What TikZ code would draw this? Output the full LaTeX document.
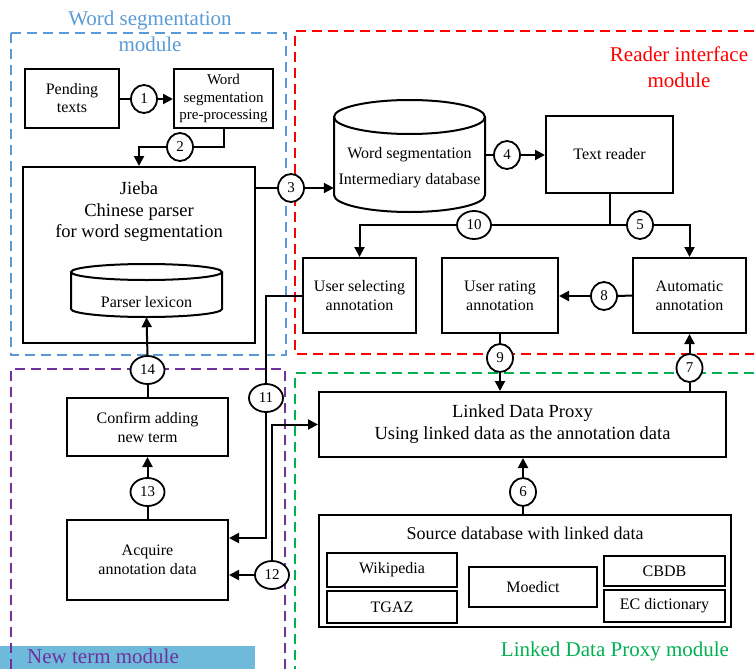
\documentclass[tikz,border=0pt]{standalone}
\usepackage{fontspec}
\setmainfont{Liberation Serif}
\usetikzlibrary{shapes.geometric,arrows.meta}
\definecolor{wsblue}{HTML}{5B9BD5}
\definecolor{rired}{HTML}{FF0000}
\definecolor{ntpurple}{HTML}{7030A0}
\definecolor{ldgreen}{HTML}{00B050}
\definecolor{bandblue}{HTML}{6FB9DA}
\newcommand\fsz[2]{\fontsize{#1}{#2}\selectfont}
\begin{document}
\begin{tikzpicture}[x=1pt,y=-1pt,
  box/.style={draw, line width=2pt, inner sep=1pt, align=center, font=\fsz{16}{19}},
  num/.style={draw, ellipse, line width=1.8pt, fill=white, inner sep=0pt, minimum width=26pt, minimum height=28pt, font=\fsz{15}{17}},
  numw/.style={num, minimum width=34pt},
  conn/.style={line width=2pt},
  arr/.style={line width=2pt, -{Triangle[length=10pt,width=10pt]}},
  modline/.style={line width=2.8pt, dash pattern=on 10pt off 6pt},
  modtitle/.style={align=center, font=\fsz{21}{26}, inner sep=0pt},
  txt/.style={align=center, inner sep=0pt}]
\useasboundingbox (0,0) rectangle (754,669);

% module frames and titles
\fill[bandblue] (0,646) rectangle (255,669);
\draw[modline, wsblue] (11,33) rectangle (286,355);
\draw[modline, rired] (754,31) -- (295,31) -- (295,354) -- (754,354);
\draw[modline, ntpurple] (11,669) -- (11,369) -- (285,369) -- (285,669);
\draw[modline, ldgreen] (754,373) -- (295,373) -- (295,669);
\node[modtitle, text=wsblue] (wstitle) at (150,31) {Word segmentation\\module};
\node[modtitle, text=rired] (rititle) at (679,67) {Reader interface\\module};
\node[modtitle, text=ntpurple, anchor=west] (nttitle) at (27,656) {New term module};
\node[modtitle, text=ldgreen] (ldtitle) at (615,651) {Linked Data Proxy module};

% word segmentation module
\node[box, minimum width=94pt, minimum height=59pt, font=\fsz{16}{18}] (pend) at (72,98.5) {Pending\\texts};
\node[box, minimum width=99pt, minimum height=59pt, font=\fsz{15}{17.5}] (pre) at (223.5,98.5) {Word\\segmentation\\pre-processing};
\node[box, minimum width=232pt, minimum height=176pt] (jieba) at (139,255) {};
\node[txt, font=\fsz{18.5}{21.5}] (jiebatxt) at (139,212) {Jieba\\Chinese parser\\for word segmentation};
% parser lexicon cylinder
\node[inner sep=0pt, minimum width=151pt, minimum height=53pt] (lex) at (146.5,290.5) {};
\draw[line width=2pt, fill=white] (71,272) -- (71,309) arc[start angle=180, end angle=0, x radius=75.5, y radius=8] -- (222,272);
\draw[line width=2pt] (146.5,272) ellipse [x radius=75.5, y radius=8];
\node[txt, font=\fsz{16}{19}] (lextxt) at (146.5,302) {Parser lexicon};

% reader interface module
\node[inner sep=0pt, minimum width=151pt, minimum height=112pt] (wsdb) at (409.5,156) {};
\draw[line width=2pt] (334,117) -- (334,195) arc[start angle=180, end angle=0, x radius=75.5, y radius=17] -- (485,117);
\draw[line width=2pt] (409.5,117) ellipse [x radius=75.5, y radius=17];
\node[txt, font=\fsz{16}{19}] (wsdbtxt1) at (409.5,155) {Word segmentation};
\node[txt, font=\fsz{16}{19}] (wsdbtxt2) at (409.5,181) {Intermediary database};
\node[box, minimum width=127pt, minimum height=77pt] (reader) at (609.5,154.5) {Text reader};
\node[box, minimum width=113pt, minimum height=75pt] (usel) at (359.5,295.5) {User selecting\\annotation};
\node[box, minimum width=116pt, minimum height=75pt] (urate) at (500,295.5) {User rating\\annotation};
\node[box, minimum width=113pt, minimum height=75pt] (auto) at (689.5,295.5) {Automatic\\annotation};

% new term module
\node[box, minimum width=161pt, minimum height=58pt] (confirm) at (147.5,427) {Confirm adding\\new term};
\node[box, minimum width=161pt, minimum height=80pt] (acq) at (147.5,560) {Acquire\\annotation data};

% linked data proxy module
\node[box, minimum width=407pt, minimum height=65pt, font=\fsz{18.5}{22}] (ldp) at (522.5,424.5) {Linked Data Proxy\\Using linked data as the annotation data};
\node[box, minimum width=412pt, minimum height=112pt] (src) at (525,571) {};
\node[txt, font=\fsz{18}{21}] (srctxt) at (525,533) {Source database with linked data};
\node[box, minimum width=130pt, minimum height=34pt] (wiki) at (392,570) {Wikipedia};
\node[box, minimum width=130pt, minimum height=32pt] (tgaz) at (392,607) {TGAZ};
\node[box, minimum width=128pt, minimum height=40pt] (moe) at (533,587) {Moedict};
\node[box, minimum width=121pt, minimum height=30pt] (cbdb) at (664.5,571) {CBDB};
\node[box, minimum width=121pt, minimum height=32pt] (ecd) at (664.5,606) {EC dictionary};

% numbered circles
\node[num] (c1) at (144,99) {1};
\node[num] (c2) at (180,147) {2};
\node[num] (c3) at (291,188) {3};
\node[num] (c4) at (507,155) {4};
\node[num] (c5) at (640,225) {5};
\node[num] (c6) at (523,492) {6};
\node[num] (c7) at (689.5,368) {7};
\node[num] (c8) at (604,296) {8};
\node[num] (c9) at (500,358) {9};
\node[numw] (c10) at (474,225) {10};
\node[numw] (c11) at (266,398) {11};
\node[numw] (c12) at (272,575) {12};
\node[numw] (c13) at (147.5,492) {13};
\node[numw] (c14) at (147.5,370) {14};

\coordinate (split) at (609.5,225);
\path (acq.east) ++(0,-22) coordinate (acq11);
\path (acq.east) ++(0,15) coordinate (acq12);

% connectors
\draw[conn] (pend.east |- c1) -- (c1.west);
\draw[arr] (c1.east) -- (pre.west |- c1);
\draw[conn] (pre.south) |- (c2.east);
\draw[arr] (c2.west) -| (jieba.north);
\draw[conn] (c3 -| jieba.east) -- (c3.west);
\draw[arr] (c3.east) -- (c3 -| wsdb.west);
\draw[conn] (c4 -| wsdb.east) -- (c4.west);
\draw[arr] (c4.east) -- (c4 -| reader.west);
\draw[conn] (reader.south) -- (split);
\draw[conn] (split) -- (c5.west);
\draw[arr] (c5.east) -| (auto.north);
\draw[conn] (split) -- (c10.east);
\draw[arr] (c10.west) -| (usel.north);
\draw[conn] (auto.west) -- (c8.east);
\draw[arr] (c8.west) -- (c8 -| urate.east);
\draw[conn] (urate.south) -- (c9.north);
\draw[arr] (c9.south) -- (c9 |- ldp.north);
\draw[conn] (c7 |- ldp.north) -- (c7.south);
\draw[arr] (c7.north) -- (auto.south);
\draw[conn] (c6 |- src.north) -- (c6.south);
\draw[arr] (c6.north) -- (c6 |- ldp.south);
\draw[conn] (usel.west) -| (c11.north);
\draw[arr] (c11.south) |- (acq11);
\draw[arr] (c12.west) -- (acq12);
\draw[arr] (c12.north) |- (ldp.west);
\draw[conn] (acq.north) -- (c13.south);
\draw[arr] (c13.north) -- (confirm.south);
\draw[conn] (confirm.north) -- (c14.south);
\draw[arr] (c14.north) -- (lex.south);
\end{tikzpicture}
\end{document}
